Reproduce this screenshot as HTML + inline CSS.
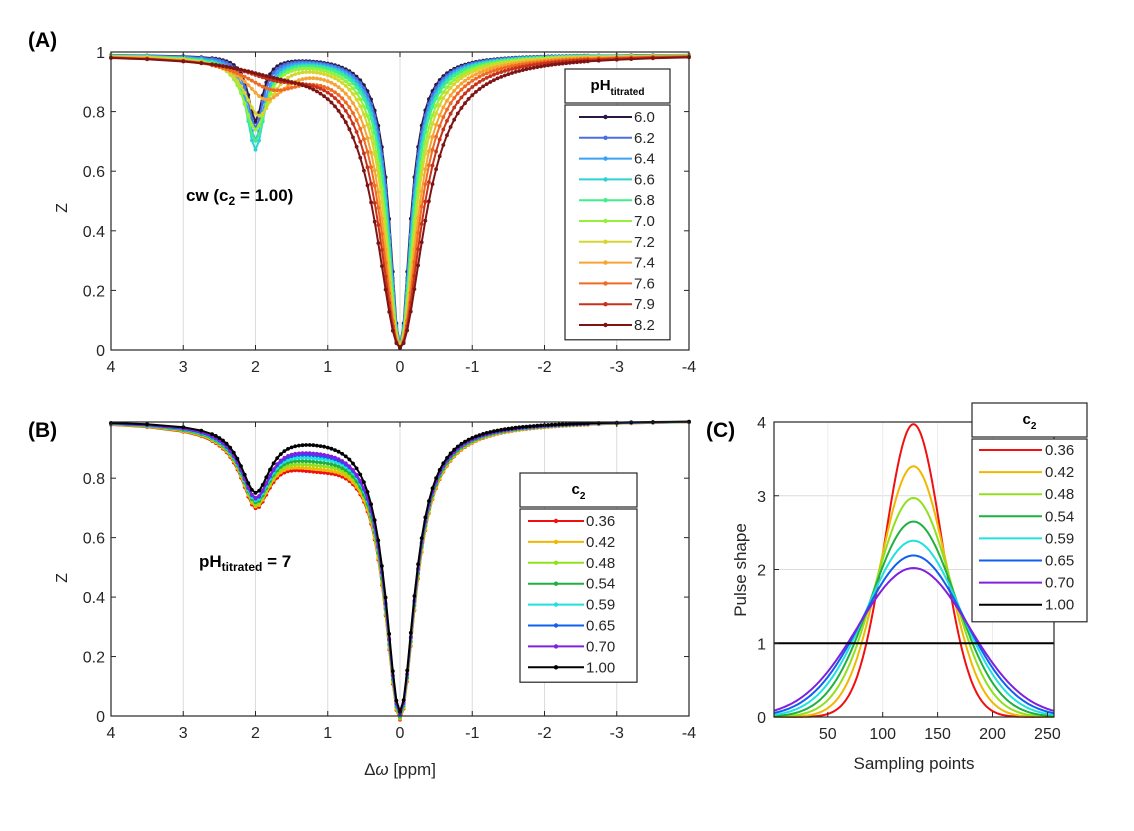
<!DOCTYPE html>
<html><head><meta charset="utf-8"><style>
html,body{margin:0;padding:0;background:#fff;}
svg{display:block;font-family:"Liberation Sans",sans-serif;}
</style></head><body>
<svg id="fig" width="1134" height="831" viewBox="0 0 1134 831"></svg>
<script>
// ---------- Panel A data ----------
const phLabels = ["6.0","6.2","6.4","6.6","6.8","7.0","7.2","7.4","7.6","7.9","8.2"];
const phColors = ["#2b1842","#4a6fe0","#3aa2f2","#2ed2d0","#3ff08a","#95f03a","#d6d62e","#f8a433","#f06a22","#c8321a","#7e1414"];
const phWaterWidth = [0.17,0.18,0.19,0.2,0.21,0.23,0.25,0.28,0.31,0.35,0.4];
const phCestDepth = [0.22,0.24,0.28,0.31,0.28,0.24,0.19,0.13,0.09,0.05,0.03];
const phCestWidth = [0.12,0.13,0.14,0.15,0.17,0.2,0.25,0.35,0.5,0.6,0.7];
const phCestCenter = [2.0,2.0,2.0,2.0,2.0,2.0,1.95,1.85,1.75,1.7,1.7];
// ---------- Panel B data ----------
const c2Labels = ["0.36","0.42","0.48","0.54","0.59","0.65","0.70","1.00"];
const c2Colors = ["#f01010","#f0b800","#90e020","#20b040","#20e0e0","#1060f0","#8020e0","#000000"];
const bBroadDepth = [0.11,0.10,0.09,0.078,0.068,0.058,0.052,0.026];
const bCestDepth = [0.225,0.224,0.223,0.222,0.221,0.22,0.22,0.217];
const bWaterWidth = [0.26,0.26,0.255,0.255,0.25,0.25,0.25,0.245];
// ---------- Panel C data ----------
const cAmplitude = [3.97,3.4,2.97,2.65,2.39,2.19,2.02,1.0];
const cSigma = [25.8,30.2,34.5,38.6,42.8,46.7,50.6,1e9];
const cCenter = 128;

const NS="http://www.w3.org/2000/svg";
const svg=document.getElementById('fig');
function el(tag,attrs,parent){const e=document.createElementNS(NS,tag);for(const k in attrs)e.setAttribute(k,attrs[k]);(parent||svg).appendChild(e);return e;}
function txt(x,y,s,attrs,parent){const t=el('text',Object.assign({x:x,y:y},attrs||{}),parent);t.innerHTML=s;return t;}

const offs=[];
[4,3.5,3.0,2.75].forEach(v=>offs.push(v));
for(let v=2.6;v>=-2.6;v-=0.05)offs.push(Math.round(v*100)/100);
[-2.75,-3.0,-3.2,-3.5,-4].forEach(v=>offs.push(v));

function lor(x,c,w){const r=(x-c)/w;return 1/(1+r*r);}
function zA(i,x){return 0.992-0.98*lor(x,0,phWaterWidth[i])-phCestDepth[i]*lor(x,phCestCenter[i],phCestWidth[i]);}
function zB(i,x){return 0.995-0.97*lor(x,0,bWaterWidth[i])-bCestDepth[i]*lor(x,2,0.25)-bBroadDepth[i]*lor(x,1.2,0.8);}

function axesZ(g,L,R,T,B,yTop,yTicks,name){
  const sx=v=>L+(4-v)/8*(R-L);
  const sy=v=>B-(v/yTop)*(B-T);
  for(let v=-4;v<=4;v++){ if(v===4||v===-4)continue;
    const gl=el('line',{x1:sx(v),x2:sx(v),y1:T,y2:B,stroke:'#dcdcdc','stroke-width':1},g);
    }
  return {sx,sy};
}
function frame(g,L,R,T,B,sx,sy,yTicks,name,xTickVals,xTickFmt){
  el('rect',{x:L,y:T,width:R-L,height:B-T,fill:'none',stroke:'#262626','stroke-width':1.2},g);
  xTickVals.forEach(v=>{
    el('line',{x1:sx(v),x2:sx(v),y1:B,y2:B-5,stroke:'#262626'},g);
    el('line',{x1:sx(v),x2:sx(v),y1:T,y2:T+5,stroke:'#262626'},g);
    const t=txt(sx(v),B+22,xTickFmt(v),{'font-size':16,fill:'#262626','text-anchor':'middle'},g);
    
  });
  yTicks.forEach(v=>{
    el('line',{x1:L,x2:L+5,y1:sy(v),y2:sy(v),stroke:'#262626'},g);
    el('line',{x1:R,x2:R-5,y1:sy(v),y2:sy(v),stroke:'#262626'},g);
    const t=txt(L-6,sy(v)+6,String(v),{'font-size':16,fill:'#262626','text-anchor':'end'},g);
    
  });
}
function series(g,pts,color,name,markers){
  const d=pts.map((p,k)=>(k?'L':'M')+p[0].toFixed(1)+' '+p[1].toFixed(1)).join(' ');
  const s=el('g',{},g);
  
  
  el('path',{d:d,fill:'none',stroke:color,'stroke-width':2,'stroke-linejoin':'round'},s);
  if(markers)pts.forEach(p=>el('circle',{cx:p[0].toFixed(1),cy:p[1].toFixed(1),r:1.9,fill:color},s));
}
function legend(g,x,y,w,hh,rowH,labels,colors,title,sub,name,markers,firstY,lineX1,lineX2,textX){
  const lg=el('g',{},g);
  
  
  const H=hh+rowH*labels.length+8;
  el('rect',{x:x,y:y,width:w,height:hh,fill:'#fff',stroke:'#262626','stroke-width':1.2},lg);
  el('rect',{x:x,y:y+hh+2,width:w,height:H-hh-2,fill:'#fff',stroke:'#262626','stroke-width':1.2},lg);
  const t=txt(x+w/2,y+hh/2+4,title+'<tspan font-size="10" dy="5">'+sub+'</tspan>',{'font-size':15,'font-weight':'bold','text-anchor':'middle',fill:'#000'},lg);
  
  labels.forEach((lab,i)=>{
    const yy=firstY+i*rowH;
    const e=el('g',{},lg);
    
    
    el('line',{x1:lineX1,x2:lineX2,y1:yy,y2:yy,stroke:colors[i],'stroke-width':2},e);
    if(markers)el('circle',{cx:(lineX1+lineX2)/2,cy:yy,r:2.2,fill:colors[i]},e);
    txt(textX,yy+5,lab,{'font-size':15,fill:'#262626'},e);
  });
}

// ---------- Panel A ----------
(function(){
  const g=el('g',{});
  const L=111,R=689,T=52,B=350;
  const {sx,sy}=axesZ(g,L,R,T,B,1,null,'panel-a');
  phLabels.forEach((lab,i)=>{
    series(g,offs.map(x=>[sx(x),sy(zA(i,x))]),phColors[i],'series-ph-'+lab,true);
  });
  frame(g,L,R,T,B,sx,sy,[0,0.2,0.4,0.6,0.8,1],'panel-a',[4,3,2,1,0,-1,-2,-3,-4],v=>String(v));
  legend(g,565,69,105,34,20.8,phLabels,phColors,'pH','titrated','legend-ph',true,117,579,632,634);
  const yl=txt(67,208,'Z',{'font-size':16,fill:'#262626','text-anchor':'middle',transform:'rotate(-90 67 208)'},g);
  
  const an=txt(186,201,'cw (c<tspan font-size="12" dy="4">2</tspan><tspan dy="-4"> = 1.00)</tspan>',{'font-size':17,'font-weight':'bold',fill:'#000'},g);
  
  const pl=txt(28,47,'(A)',{'font-size':21,'font-weight':'bold',fill:'#000'},g);
  
})();

// ---------- Panel B ----------
(function(){
  const g=el('g',{});
  const L=111,R=689,T=422,B=716,yTop=0.989;
  const {sx,sy}=axesZ(g,L,R,T,B,yTop,null,'panel-b');
  c2Labels.forEach((lab,i)=>{
    series(g,offs.map(x=>[sx(x),sy(zB(i,x))]),c2Colors[i],'series-c2-'+lab,true);
  });
  frame(g,L,R,T,B,sx,sy,[0,0.2,0.4,0.6,0.8],'panel-b',[4,3,2,1,0,-1,-2,-3,-4],v=>String(v));
  legend(g,520,473,117,34,20.9,c2Labels,c2Colors,'c','2','legend-c2-b',true,521,528,584,586);
  const yl=txt(67,578,'Z',{'font-size':16,fill:'#262626','text-anchor':'middle',transform:'rotate(-90 67 578)'},g);
  
  const xl=txt(400,775,'Δ<tspan font-style="italic">ω</tspan> [ppm]',{'font-size':17,fill:'#262626','text-anchor':'middle'},g);
  
  const an=txt(199,567,'pH<tspan font-size="12" dy="4">titrated</tspan><tspan dy="-4"> = 7</tspan>',{'font-size':17,'font-weight':'bold',fill:'#000'},g);
  
  const pl=txt(28,437,'(B)',{'font-size':21,'font-weight':'bold',fill:'#000'},g);
  
})();

// ---------- Panel C ----------
(function(){
  const g=el('g',{});
  const L=774,R=1054,T=422,B=717;
  const sx=v=>L+(v-1)/255*(R-L);
  const sy=v=>B-v/4*(B-T);
  [1,2,3].forEach(v=>{const gl=el('line',{x1:L,x2:R,y1:sy(v),y2:sy(v),stroke:'#dcdcdc'},g);
    });
  [50,100,150,200].forEach(v=>{const gl=el('line',{x1:sx(v),x2:sx(v),y1:T,y2:B,stroke:'#ececec'},g);
    });
  c2Labels.forEach((lab,i)=>{
    const pts=[];
    for(let n=1;n<=256;n+=1){const r=(n-cCenter)/cSigma[i];pts.push([sx(n),sy(cAmplitude[i]*Math.exp(-0.5*r*r))]);}
    series(g,pts,c2Colors[i],'pulse-c2-'+lab,false);
  });
  el('rect',{x:L,y:T,width:R-L,height:B-T,fill:'none',stroke:'#262626','stroke-width':1.2},g);
  [50,100,150,200,250].forEach(v=>{
    el('line',{x1:sx(v),x2:sx(v),y1:B,y2:B-5,stroke:'#262626'},g);
    const t=txt(sx(v),B+22,String(v),{'font-size':16,fill:'#262626','text-anchor':'middle'},g);
    
  });
  [0,1,2,3,4].forEach(v=>{
    el('line',{x1:L,x2:L+5,y1:sy(v),y2:sy(v),stroke:'#262626'},g);
    const t=txt(L-8,sy(v)+6,String(v),{'font-size':16,fill:'#262626','text-anchor':'end'},g);
    
  });
  legend(g,972,403,115,34,22.1,c2Labels,c2Colors,'c','2','legend-c2-c',false,450,979,1042,1045);
  const yl=txt(746,570,'Pulse shape',{'font-size':17,fill:'#262626','text-anchor':'middle',transform:'rotate(-90 746 570)'},g);
  
  const xl=txt(914,769,'Sampling points',{'font-size':17,fill:'#262626','text-anchor':'middle'},g);
  
  const pl=txt(706,437,'(C)',{'font-size':21,'font-weight':'bold',fill:'#000'},g);
  
})();
</script>
</body></html>
